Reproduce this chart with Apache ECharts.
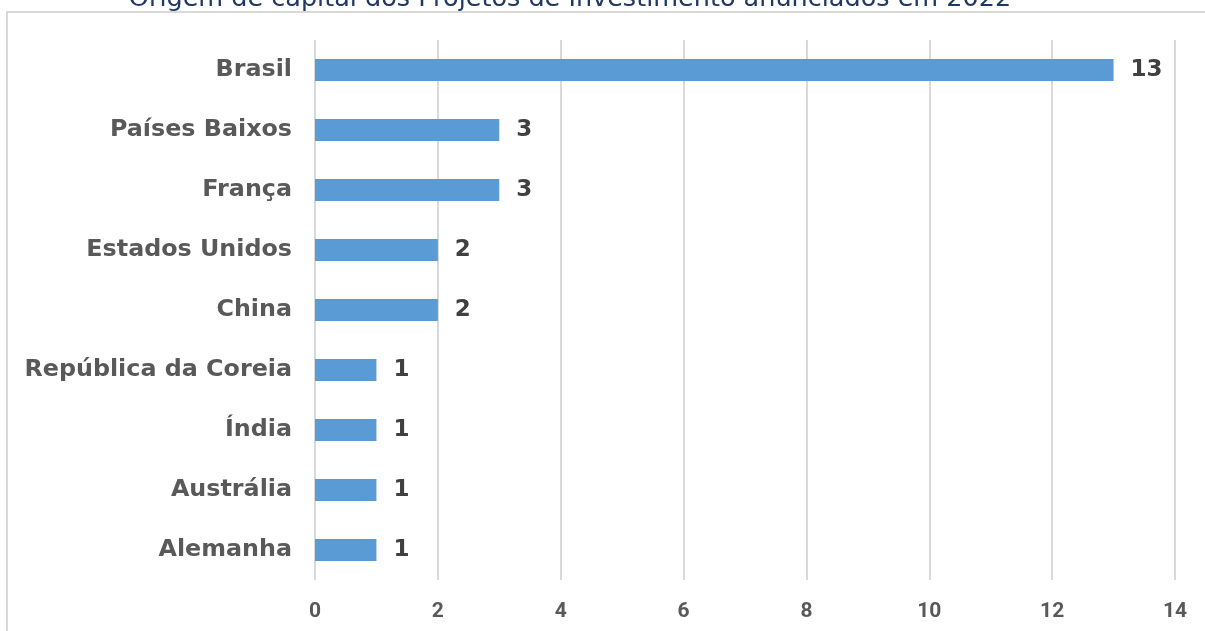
<!DOCTYPE html>
<html>
<head>
<meta charset="utf-8">
<script src="https://cdn.jsdelivr.net/npm/echarts@6/dist/echarts.min.js"></script>
<style>
  html, body { margin: 0; padding: 0; background: #fff; }
  #chart { width: 1205px; height: 631px; }
</style>
</head>
<body>
<div id="chart"></div>
<script>
const countries = [
  "Brasil",
  "Países Baixos",
  "França",
  "Estados Unidos",
  "China",
  "República da Coreia",
  "Índia",
  "Austrália",
  "Alemanha",
];
const projects = [13, 3, 3, 2, 2, 1, 1, 1, 1];
const titleText = "Origem de capital dos Projetos de Investimento anunciados em 2022";

const chart = echarts.init(document.getElementById("chart"));
const font = "'DejaVu Sans', Verdana, sans-serif";

chart.setOption({
  backgroundColor: "#fff",
  animation: false,
  graphic: [
    {
      type: "rect",
      shape: { x: 7, y: 12, width: 1220, height: 640 },
      style: { fill: "none", stroke: "#d9d9d9", lineWidth: 2 },
      silent: true,
    },
    {
      type: "text",
      x: 570,
      y: 12,
      style: {
        text: titleText,
        fill: "#203864",
        font: "25.5px " + font,
        textAlign: "center",
        textVerticalAlign: "bottom",
      },
    },
  ],
  grid: { left: 315, right: 30, top: 40, bottom: 51, containLabel: false },
  xAxis: {
    type: "value",
    min: 0,
    max: 14,
    interval: 2,
    axisLine: { show: false },
    axisTick: { show: false },
    splitLine: { lineStyle: { color: "#d9d9d9", width: 2 } },
    axisLabel: {
      color: "#595959",
      fontWeight: "bold",
      fontSize: 21,
      fontFamily: "Roboto, sans-serif",
      margin: 21,
    },
  },
  yAxis: {
    type: "category",
    data: countries,
    inverse: true,
    axisLine: { show: false },
    axisTick: { show: false },
    axisLabel: {
      color: "#595959",
      fontWeight: "bold",
      fontSize: 23.8,
      fontFamily: font,
      margin: 23,
    },
  },
  series: [
    {
      type: "bar",
      data: projects,
      barWidth: 22,
      itemStyle: { color: "#5b9bd5" },
      label: {
        show: true,
        position: "right",
        distance: 17,
        color: "#404040",
        fontWeight: "bold",
        fontSize: 23,
        fontFamily: font,
      },
    },
  ],
});
</script>
</body>
</html>
